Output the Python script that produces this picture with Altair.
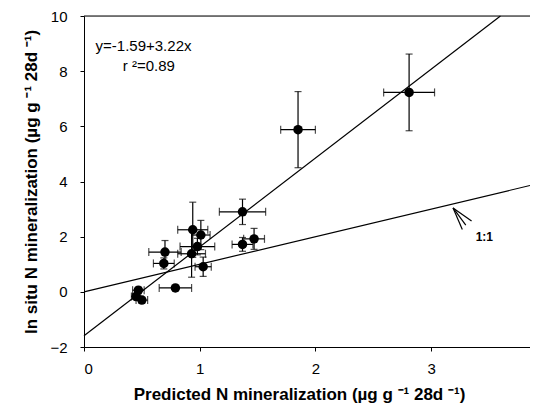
import altair as alt
import pandas as pd

# ---- data ----
pred_x = [2.81, 1.85, 1.37, 1.47, 1.37, 0.94, 1.01, 0.98, 0.93, 1.03, 0.70, 0.69, 0.79, 0.47, 0.45, 0.50]
insitu_y = [7.23, 5.88, 2.90, 1.92, 1.72, 2.25, 2.06, 1.64, 1.38, 0.91, 1.44, 1.03, 0.14, 0.06, -0.17, -0.30]
x_err = [0.22, 0.15, 0.20, 0.09, 0.09, 0.13, 0.08, 0.15, 0.12, 0.07, 0.14, 0.09, 0.14, 0.05, 0.04, 0.05]
y_err = [1.39, 1.38, 0.46, 0.38, 0.25, 1.00, 0.53, 0.30, 0.85, 0.35, 0.42, 0.20, 0.05, 0.10, 0.10, 0.10]

intercept = -1.59
slope = 3.22
x_max = 3.855
y_min, y_max = -2, 10

eq_text = ["y=-1.59+3.22x", "r ²=0.89"]
eq_x = [0.10, 0.335]
eq_y = [8.92, 8.20]

one_label = "1:1"
one_label_pos = [3.46, 1.97]
arrow_tip = [3.19, 3.04]
arrow_tails_x = [3.35, 3.30, 3.27]
arrow_tails_y = [2.57, 2.42, 2.26]

FONT = "Liberation Sans"

df = pd.DataFrame({"x": pred_x, "y": insitu_y, "xe": x_err, "ye": y_err})
df["xlo"] = df.x - df.xe
df["xhi"] = df.x + df.xe
df["ylo"] = df.y - df.ye
df["yhi"] = df.y + df.ye

xs = alt.Scale(domain=[0, x_max], nice=False, zero=False)
ys = alt.Scale(domain=[y_min, y_max], nice=False, zero=False)

x_axis = alt.Axis(values=[0, 1, 2, 3], format="d",
                  title="Predicted N mineralization (µg g ⁻¹ 28d ⁻¹)",
                  grid=False, tickSize=4, labelFontSize=15, titleFontSize=17,
                  titleFontWeight="bold", labelPadding=10, titlePadding=10,
                  domainColor="black", tickColor="black", labelColor="black", titleColor="black",
                  labelFont=FONT, titleFont=FONT, titleX=215)
y_axis = alt.Axis(values=[-2, 0, 2, 4, 6, 8, 10], format="d",
                  title="In situ N mineralization (µg g ⁻¹ 28d ⁻¹)",
                  grid=False, tickSize=4, labelFontSize=15, titleFontSize=17,
                  titleFontWeight="bold", labelPadding=13, titlePadding=9,
                  domainColor="black", tickColor="black", labelColor="black", titleColor="black",
                  labelFont=FONT, titleFont=FONT)

base = alt.Chart(df)

xbars = base.mark_rule(color="black", strokeWidth=1.2).encode(
    x=alt.X("xlo:Q", scale=xs, axis=x_axis), x2="xhi:Q",
    y=alt.Y("y:Q", scale=ys, axis=y_axis))
ybars = base.mark_rule(color="black", strokeWidth=1.2).encode(
    x=alt.X("x:Q", scale=xs), y=alt.Y("ylo:Q", scale=ys), y2="yhi:Q")

xcap_lo = base.mark_tick(orient="vertical", color="black", thickness=1.2, size=8).encode(
    x=alt.X("xlo:Q", scale=xs), y=alt.Y("y:Q", scale=ys))
xcap_hi = base.mark_tick(orient="vertical", color="black", thickness=1.2, size=8).encode(
    x=alt.X("xhi:Q", scale=xs), y=alt.Y("y:Q", scale=ys))
ycap_lo = base.mark_tick(orient="horizontal", color="black", thickness=1.2, size=7).encode(
    x=alt.X("x:Q", scale=xs), y=alt.Y("ylo:Q", scale=ys))
ycap_hi = base.mark_tick(orient="horizontal", color="black", thickness=1.2, size=7).encode(
    x=alt.X("x:Q", scale=xs), y=alt.Y("yhi:Q", scale=ys))

points = base.mark_circle(color="black", opacity=1, size=90).encode(
    x=alt.X("x:Q", scale=xs), y=alt.Y("y:Q", scale=ys))

reg_x_end = (y_max - intercept) / slope
reg_df = pd.DataFrame({"x": [0, reg_x_end], "y": [intercept, intercept + slope * reg_x_end]})
reg = alt.Chart(reg_df).mark_line(color="black", strokeWidth=1.2).encode(
    x=alt.X("x:Q", scale=xs), y=alt.Y("y:Q", scale=ys))

one_df = pd.DataFrame({"x": [0, x_max], "y": [0, x_max]})
oneline = alt.Chart(one_df).mark_line(color="black", strokeWidth=1.2).encode(
    x=alt.X("x:Q", scale=xs), y=alt.Y("y:Q", scale=ys))

top_df = pd.DataFrame({"y": [y_max]})
top_border = alt.Chart(top_df).mark_rule(color="black", strokeWidth=1).encode(
    y=alt.Y("y:Q", scale=ys))

eq_df = pd.DataFrame({"x": eq_x, "y": eq_y, "t": eq_text})
eq = alt.Chart(eq_df).mark_text(align="left", baseline="middle", fontSize=15,
                                font=FONT, color="black").encode(
    x=alt.X("x:Q", scale=xs), y=alt.Y("y:Q", scale=ys), text="t:N")

lab_df = pd.DataFrame({"x": [one_label_pos[0]], "y": [one_label_pos[1]], "t": [one_label]})
lab = alt.Chart(lab_df).mark_text(align="center", baseline="middle", fontSize=12,
                                  fontWeight="bold", font=FONT, color="black").encode(
    x=alt.X("x:Q", scale=xs), y=alt.Y("y:Q", scale=ys), text="t:N")

arr_df = pd.DataFrame({"x": [arrow_tip[0]] * 3, "y": [arrow_tip[1]] * 3,
                       "x2": arrow_tails_x, "y2": arrow_tails_y})
arrow = alt.Chart(arr_df).mark_rule(color="black", strokeWidth=1.2).encode(
    x=alt.X("x:Q", scale=xs), y=alt.Y("y:Q", scale=ys), x2="x2:Q", y2="y2:Q")

chart = alt.layer(
    top_border, reg, oneline, xbars, ybars, xcap_lo, xcap_hi, ycap_lo, ycap_hi,
    points, eq, lab, arrow
).properties(
    width=446, height=331,
    autosize=alt.AutoSizeParams(type="none"),
    padding={"left": 76, "top": 8, "right": 0, "bottom": 62},
).configure_view(stroke=None).configure(background="white")

chart.save("out.html", embed_options={"renderer": "svg", "actions": False})
